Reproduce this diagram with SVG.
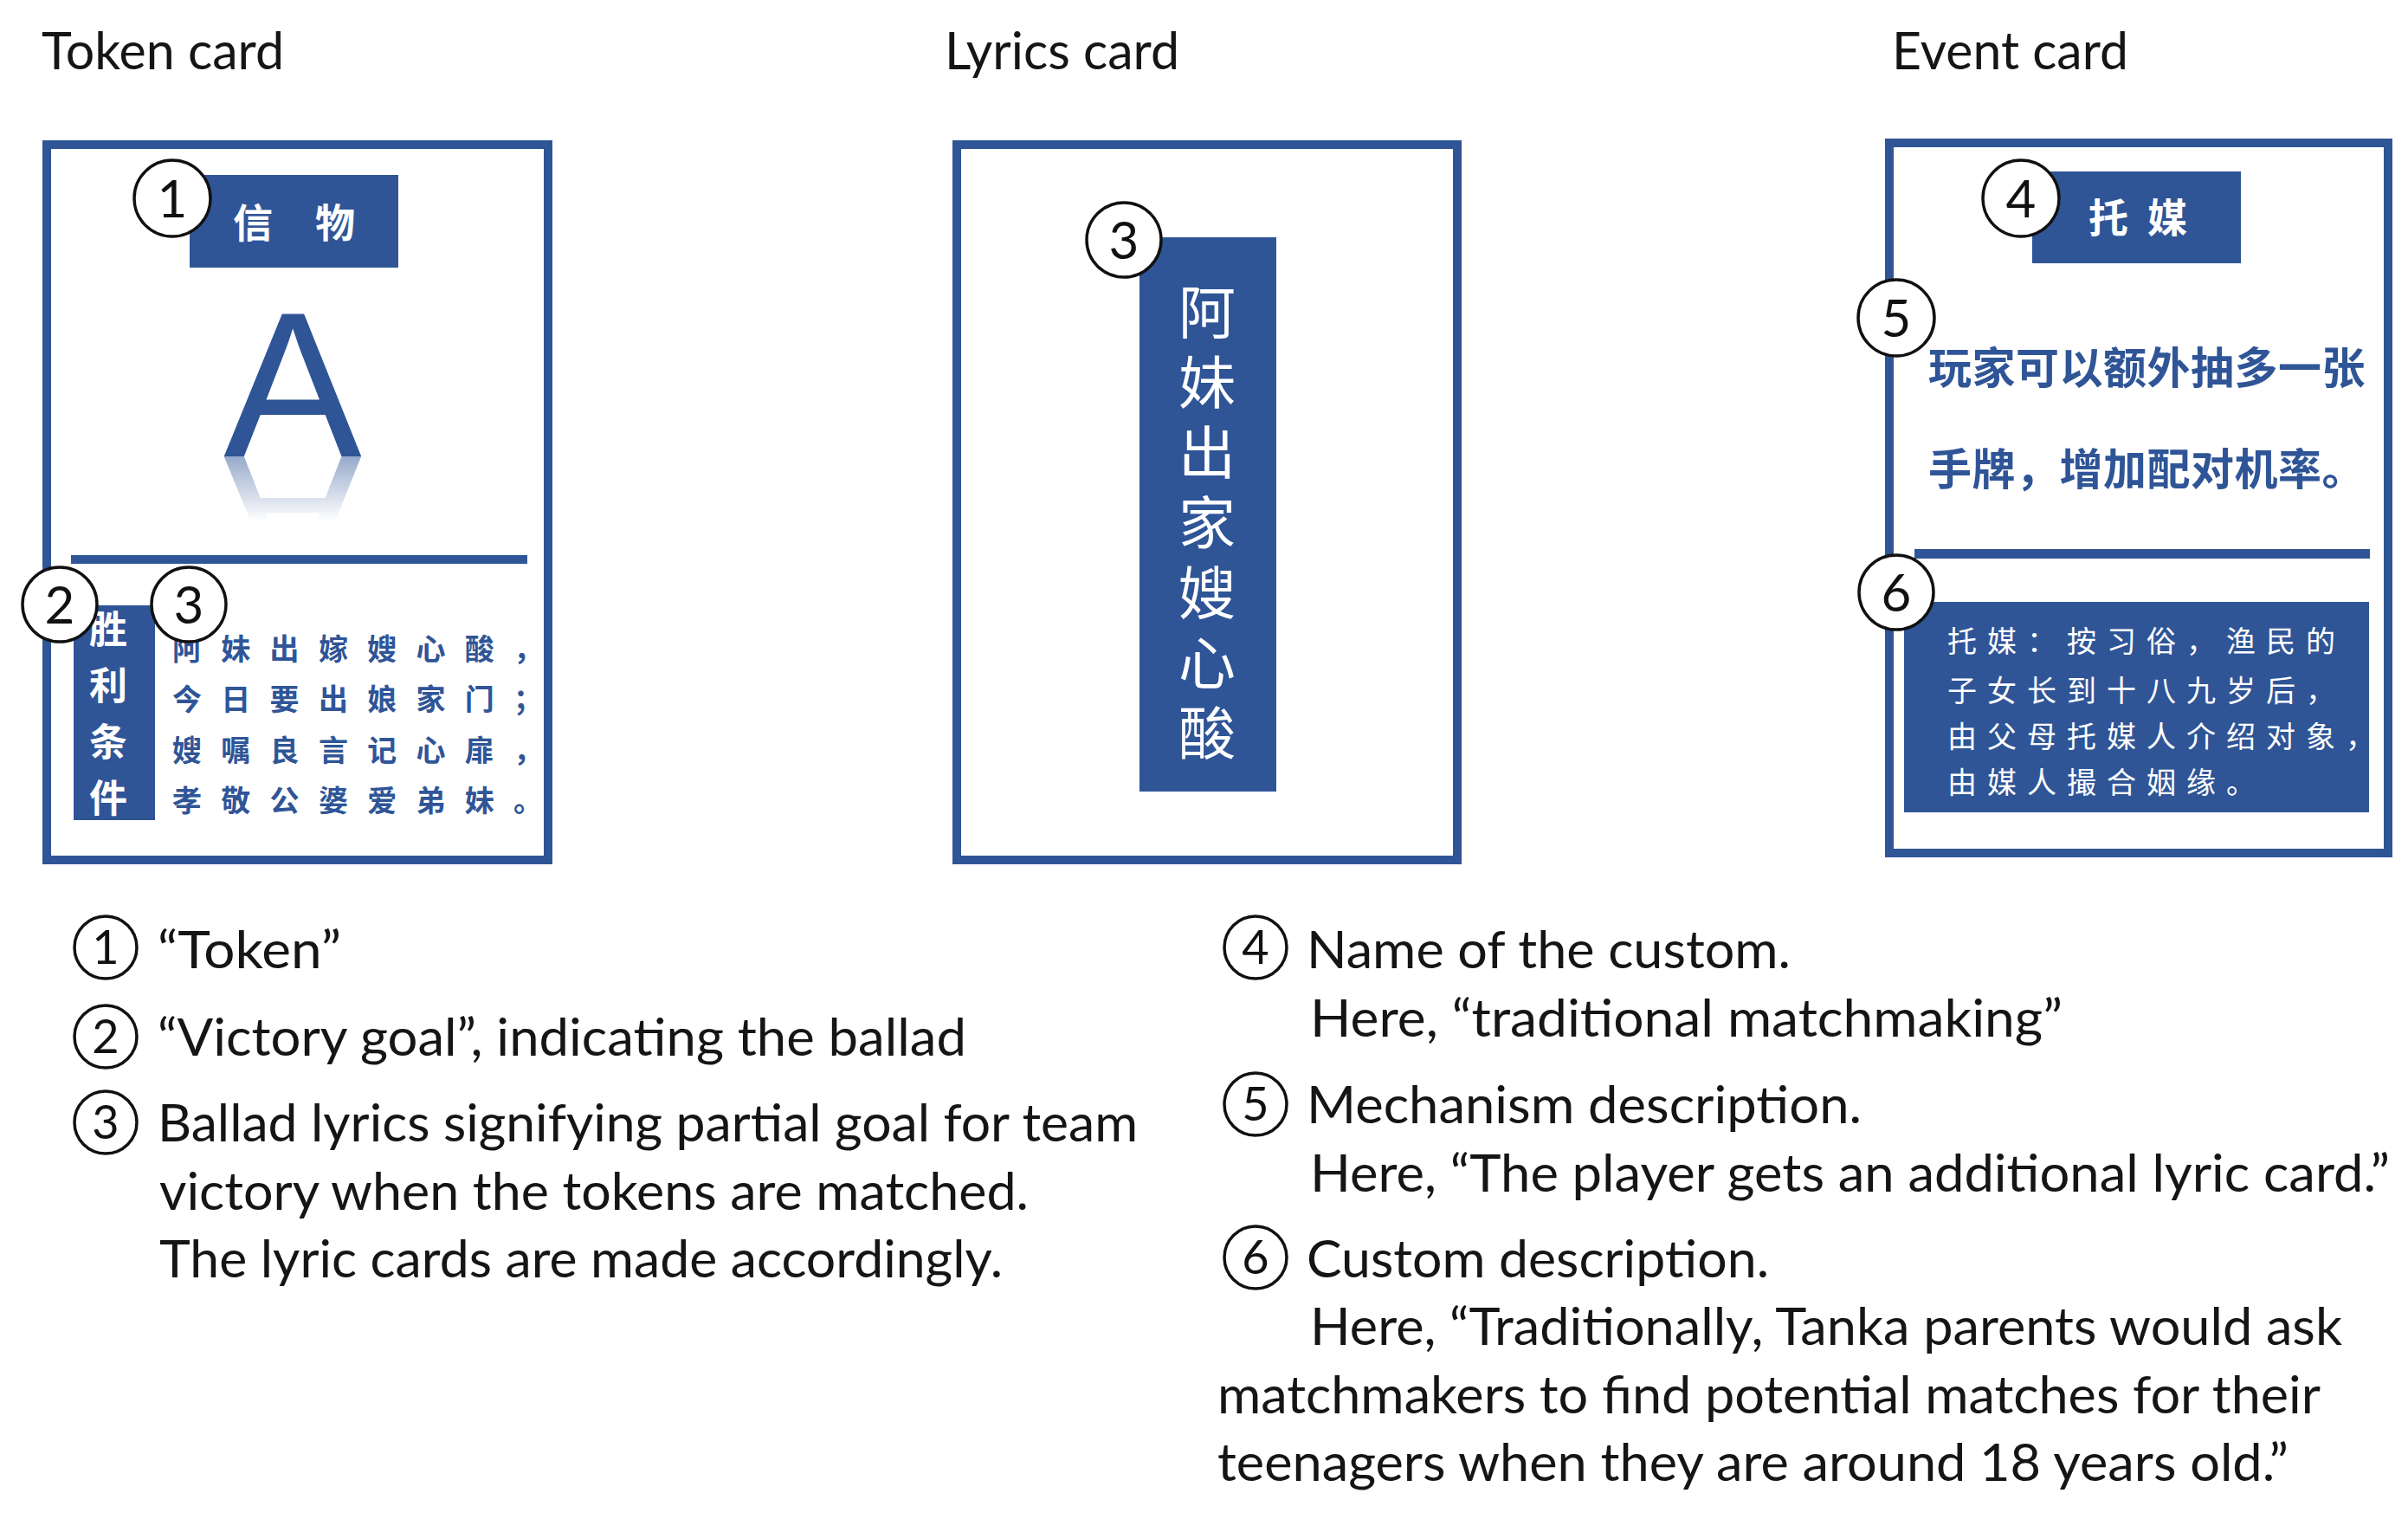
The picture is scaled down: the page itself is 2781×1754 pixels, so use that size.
<svg xmlns="http://www.w3.org/2000/svg" xmlns:xlink="http://www.w3.org/1999/xlink" width="2781" height="1754" viewBox="0 0 2781 1754">
<defs>
<style>
.lat{font-family:Lato,'Liberation Sans',sans-serif;fill:#151515}
.ttl{font-size:60px}
.leg{font-size:60px}
.card{fill:#fff;stroke:#2F5597;stroke-width:10}
.blue{fill:#2F5597}
.cjk{font-family:'Noto Sans CJK SC','Noto Sans CJK JP',sans-serif}
.wb{fill:#fff;font-weight:700}
.bb{fill:#2F5597;font-weight:700}
.cc{fill:#fff;stroke:#111;stroke-width:3.5}
.cd{font-family:Lato,'Liberation Sans',sans-serif;font-size:60px;fill:#111;text-anchor:middle}
.lc{fill:none;stroke:#111;stroke-width:3.5}
.ld{font-family:Lato,'Liberation Sans',sans-serif;font-size:54px;fill:#111;text-anchor:middle}
</style>
<linearGradient id="fade" x1="0" y1="0" x2="0" y2="1">
<stop offset="0" stop-color="#fff" stop-opacity="0.5"/>
<stop offset="1" stop-color="#fff" stop-opacity="0"/>
</linearGradient>
<mask id="refl" maskUnits="userSpaceOnUse" x="200" y="527" width="300" height="80">
<rect x="200" y="527" width="300" height="75" fill="url(#fade)"/>
</mask>
</defs>
<rect width="2781" height="1754" fill="#fff"/>

<g id="titles" class="lat ttl">
<text x="48" y="80" textLength="280" lengthAdjust="spacingAndGlyphs">Token card</text>
<text x="1091" y="80" textLength="271" lengthAdjust="spacingAndGlyphs">Lyrics card</text>
<text x="2185" y="80" textLength="273" lengthAdjust="spacingAndGlyphs">Event card</text>
</g>

<g id="token-card">
<rect class="card" x="54" y="167" width="579" height="826"/>
<rect class="blue" x="219" y="202" width="241" height="107"/>
<text class="cjk wb" font-size="46" x="292" y="274" text-anchor="middle">信</text>
<text class="cjk wb" font-size="46" x="387" y="274" text-anchor="middle">物</text>
<text id="bigA" x="338" y="527" font-family="'Liberation Sans',Arial,sans-serif" font-size="239" fill="#2F5597" text-anchor="middle">A</text>
<g mask="url(#refl)">
<use href="#bigA" xlink:href="#bigA" transform="translate(0,1054) scale(1,-1)"/>
</g>
<rect class="blue" x="82" y="641" width="527" height="10"/>
<rect class="blue" x="85" y="699" width="94" height="248"/>
<text class="cjk wb" font-size="44" x="125" y="704" writing-mode="vertical-rl" letter-spacing="21">胜利条件</text>
<g class="cjk bb" font-size="34" letter-spacing="22.3">
<text x="199" y="762">阿妹出嫁嫂心酸，</text>
<text x="199" y="820">今日要出娘家门；</text>
<text x="199" y="879">嫂嘱良言记心扉，</text>
<text x="199" y="937">孝敬公婆爱弟妹。</text>
</g>
<circle class="cc" cx="199" cy="229" r="44"/>
<text class="cd" x="199" y="251">1</text>
<circle class="cc" cx="69" cy="698" r="43"/>
<text class="cd" x="69" y="720">2</text>
<circle class="cc" cx="218" cy="698" r="43"/>
<text class="cd" x="218" y="720">3</text>
</g>

<g id="lyrics-card">
<rect class="card" x="1105" y="167" width="578" height="826"/>
<rect class="blue" x="1316" y="274" width="158" height="640"/>
<text class="cjk" font-size="66" fill="#fff" x="1394" y="327" writing-mode="vertical-rl" letter-spacing="15">阿妹出家嫂心酸</text>
<circle class="cc" cx="1298" cy="277" r="43"/>
<text class="cd" x="1298" y="299">3</text>
</g>

<g id="event-card">
<rect class="card" x="2182" y="165" width="576" height="820"/>
<rect class="blue" x="2347" y="198" width="241" height="106"/>
<text class="cjk wb" font-size="46" x="2435" y="268" text-anchor="middle">托</text>
<text class="cjk wb" font-size="46" x="2503" y="268" text-anchor="middle">媒</text>
<g class="cjk bb" font-size="50" letter-spacing="0.5">
<text x="2227" y="443">玩家可以额外抽多一张</text>
<text x="2227" y="560">手牌，增加配对机率。</text>
</g>
<rect class="blue" x="2211" y="634" width="526" height="11"/>
<rect class="blue" x="2199" y="695" width="537" height="243"/>
<g class="cjk" font-size="34" fill="#fff" letter-spacing="12">
<text x="2249" y="753">托媒：按习俗，渔民的</text>
<text x="2249" y="810">子女长到十八九岁后，</text>
<text x="2249" y="863">由父母托媒人介绍对象，</text>
<text x="2249" y="916">由媒人撮合姻缘。</text>
</g>
<circle class="cc" cx="2334" cy="229" r="44"/>
<text class="cd" x="2334" y="251">4</text>
<circle class="cc" cx="2190" cy="367" r="44"/>
<text class="cd" x="2190" y="389">5</text>
<circle class="cc" cx="2190" cy="684" r="43"/>
<text class="cd" x="2190" y="706">6</text>
</g>

<g id="connectors"/>

<g id="legend-left">
<circle class="lc" cx="122" cy="1094" r="36"/>
<text class="ld" x="122" y="1113">1</text>
<circle class="lc" cx="122" cy="1197" r="36"/>
<text class="ld" x="122" y="1216">2</text>
<circle class="lc" cx="122" cy="1296" r="36"/>
<text class="ld" x="122" y="1315">3</text>
<g class="lat leg">
<text x="182" y="1118" textLength="212" lengthAdjust="spacingAndGlyphs">“Token”</text>
<text x="182" y="1219" textLength="934" lengthAdjust="spacingAndGlyphs">“Victory goal”, indicating the ballad</text>
<text x="182" y="1318" textLength="1132" lengthAdjust="spacingAndGlyphs">Ballad lyrics signifying partial goal for team</text>
<text x="184" y="1397" textLength="1004" lengthAdjust="spacingAndGlyphs">victory when the tokens are matched.</text>
<text x="184" y="1475" textLength="974" lengthAdjust="spacingAndGlyphs">The lyric cards are made accordingly.</text>
</g>
</g>

<g id="legend-right">
<circle class="lc" cx="1450" cy="1094" r="36"/>
<text class="ld" x="1450" y="1113">4</text>
<circle class="lc" cx="1450" cy="1275" r="36"/>
<text class="ld" x="1450" y="1294">5</text>
<circle class="lc" cx="1450" cy="1452" r="36"/>
<text class="ld" x="1450" y="1471">6</text>
<g class="lat leg">
<text x="1509" y="1118" textLength="559" lengthAdjust="spacingAndGlyphs">Name of the custom.</text>
<text x="1513" y="1197" textLength="869" lengthAdjust="spacingAndGlyphs">Here, “traditional matchmaking”</text>
<text x="1509" y="1297" textLength="641" lengthAdjust="spacingAndGlyphs">Mechanism description.</text>
<text x="1513" y="1376" textLength="1247" lengthAdjust="spacingAndGlyphs">Here, “The player gets an additional lyric card.”</text>
<text x="1509" y="1475" textLength="534" lengthAdjust="spacingAndGlyphs">Custom description.</text>
<text x="1513" y="1553" textLength="1192" lengthAdjust="spacingAndGlyphs">Here, “Traditionally, Tanka parents would ask</text>
<text x="1406" y="1632" textLength="1274" lengthAdjust="spacingAndGlyphs">matchmakers to find potential matches for their</text>
<text x="1406" y="1710" textLength="1237" lengthAdjust="spacingAndGlyphs">teenagers when they are around 18 years old.”</text>
</g>
</g>
</svg>
